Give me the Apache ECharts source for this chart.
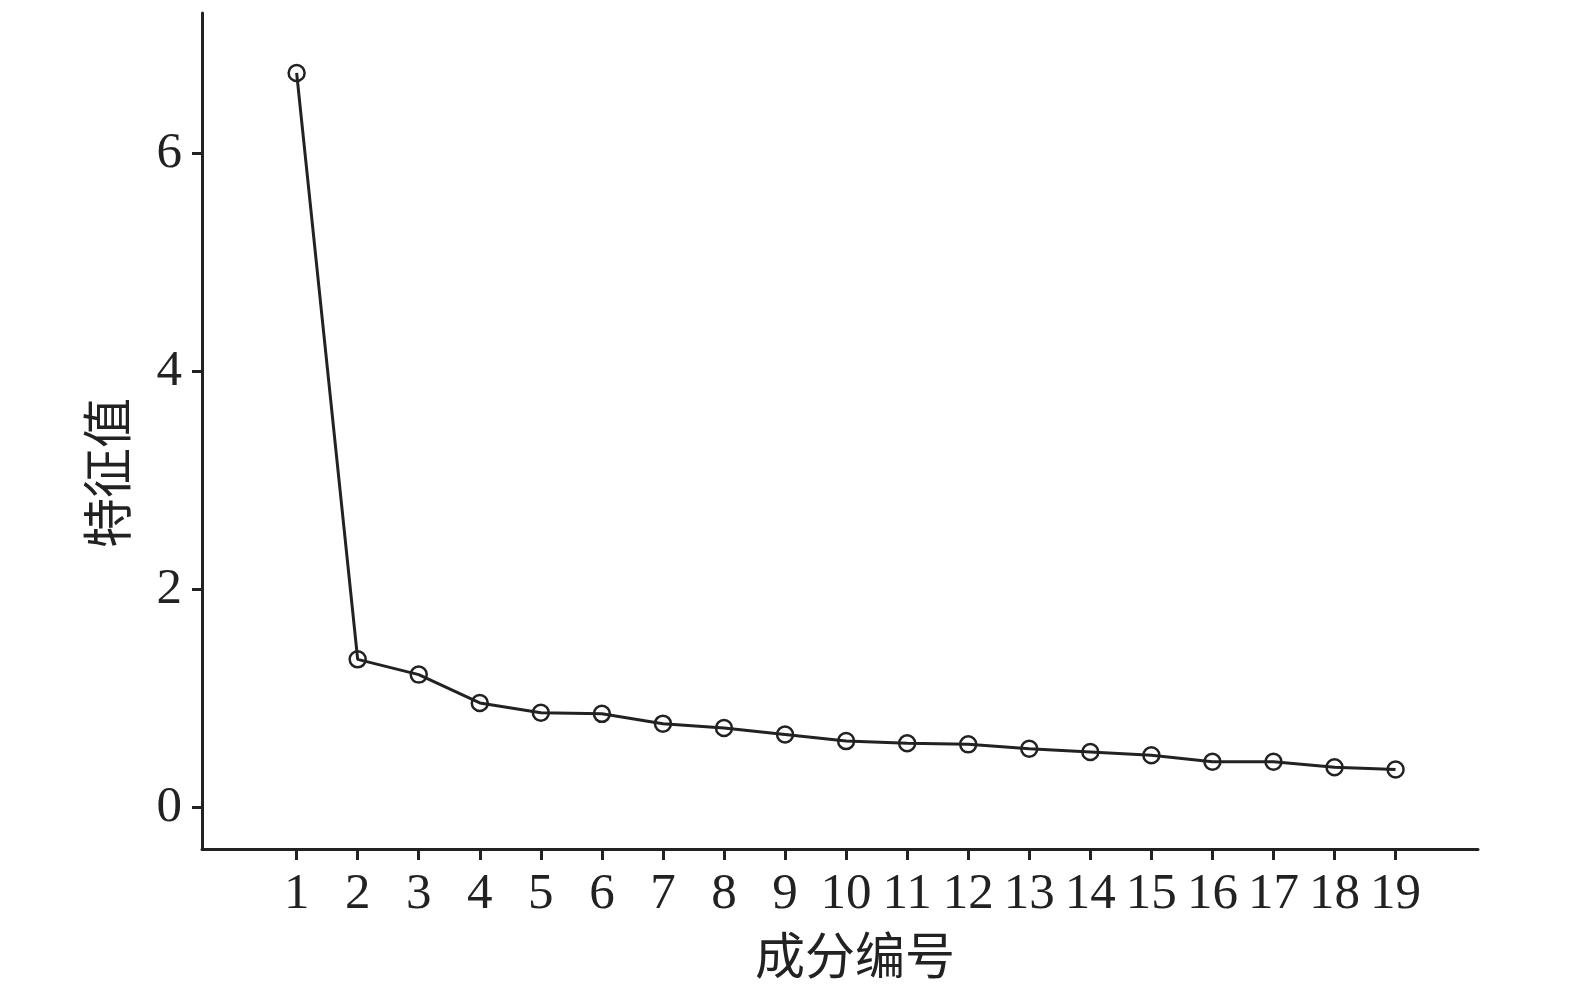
<!DOCTYPE html>
<html>
<head>
<meta charset="utf-8">
<script src="https://cdn.jsdelivr.net/npm/echarts@6/dist/echarts.min.js"></script>
<style>
  html, body { margin: 0; padding: 0; background: #fff; }
  #chart { width: 1575px; height: 993px; }
</style>
</head>
<body>
<div id="chart"></div>
<script>
// scree plot: component number vs eigenvalue
const components = [1, 2, 3, 4, 5, 6, 7, 8, 9, 10, 11, 12, 13, 14, 15, 16, 17, 18, 19];
const eigenvalues = [6.74, 1.36, 1.22, 0.96, 0.87, 0.86, 0.77, 0.73, 0.67, 0.61, 0.59, 0.58, 0.54, 0.51, 0.48, 0.42, 0.42, 0.37, 0.35];
const yTicks = [0, 2, 4, 6];

const FONT = '"Liberation Serif", "Noto Sans CJK SC", serif';
const INK = '#222';

const chart = echarts.init(document.getElementById('chart'));

chart.setOption({
  backgroundColor: '#fff',
  animation: false,
  textStyle: { fontFamily: FONT },
  grid: { left: 202, right: 97, top: 13, bottom: 144, containLabel: false, outerBoundsMode: 'none' },

  xAxis: {
    type: 'value',
    min: -0.55,
    max: 20.35,
    name: '成分编号',
    nameLocation: 'middle',
    nameGap: 87,
    nameTextStyle: { fontFamily: FONT, fontSize: 50, color: INK, padding: [0, 0, 0, 30] },
    axisLine: { show: true, onZero: false, lineStyle: { color: INK, width: 3 } },
    axisTick: { show: true, length: 11, customValues: components, lineStyle: { color: INK, width: 3 } },
    axisLabel: { customValues: components, margin: 20, fontSize: 51, color: INK, fontFamily: FONT },
    splitLine: { show: false },
  },

  yAxis: {
    type: 'value',
    min: -0.38,
    max: 7.29,
    name: '特征值',
    nameLocation: 'middle',
    nameGap: 64,
    nameRotate: 90,
    nameTextStyle: { fontFamily: FONT, fontSize: 50, color: INK, padding: [0, 84, 0, 0] },
    axisLine: { show: true, onZero: false, lineStyle: { color: INK, width: 3 } },
    axisTick: { show: true, length: 10, customValues: yTicks, lineStyle: { color: INK, width: 3 } },
    axisLabel: { customValues: yTicks, margin: 20, fontSize: 51, color: INK, fontFamily: FONT },
    splitLine: { show: false },
  },

  series: [{
    type: 'line',
    data: components.map((c, i) => [c, eigenvalues[i]]),
    symbol: 'circle',
    symbolSize: 16,
    itemStyle: { color: 'rgba(0,0,0,0)', borderColor: INK, borderWidth: 2.5 },
    lineStyle: { color: INK, width: 3 },
  }],
});
</script>
</body>
</html>
